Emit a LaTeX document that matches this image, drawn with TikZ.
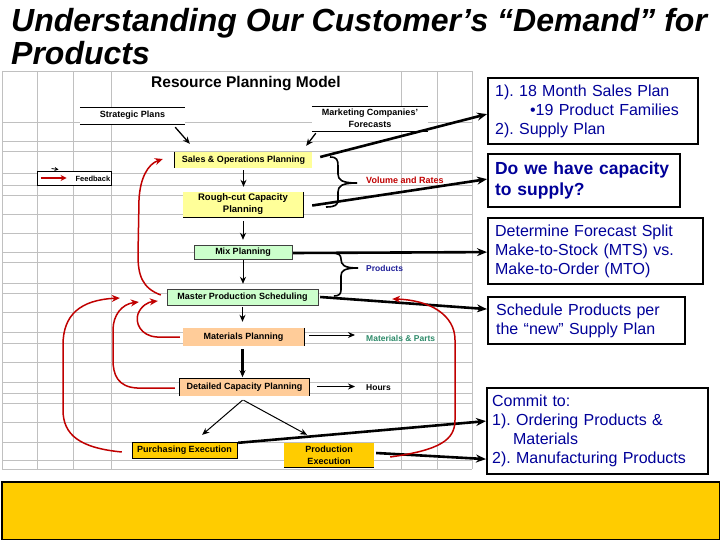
\documentclass[tikz,border=0pt]{standalone}
\usepackage{fontspec}
\setmainfont{Liberation Sans}
\usetikzlibrary{arrows.meta,calc}
\definecolor{sopY}{HTML}{FFFF99}
\definecolor{mixG}{HTML}{CCFFCC}
\definecolor{matO}{HTML}{FFCC99}
\definecolor{goldY}{HTML}{FFCC00}
\definecolor{navy}{HTML}{000099}
\definecolor{arcred}{HTML}{C00000}
\definecolor{gridgray}{HTML}{C0C0C0}
\definecolor{tealg}{HTML}{2E8B6A}
\definecolor{prodblue}{HTML}{1F1F99}
\frenchspacing
\begin{document}
\begin{tikzpicture}[x=1pt,y=-1pt,
  gridline/.style={draw=gridgray,line width=0.8pt},
  cell/.style={inner sep=0pt,font=\fontsize{9}{12}\selectfont\bfseries,align=center},
  lbl/.style={inner sep=0pt,font=\fontsize{8.5}{10}\selectfont\bfseries,anchor=west},
  blk/.style={draw=black,line width=1pt,-{Stealth[length=7pt,width=6pt]}},
  bigarrow/.style={draw=black,line width=2.6pt,-{Stealth[length=10pt,width=8pt]}},
  redarc/.style={draw=arcred,line width=1.5pt,-{Stealth[length=8pt,width=7pt]}},
  rbox/.style={draw=black,line width=2.2pt,fill=white,anchor=north west,align=left,
    text=navy,font=\fontsize{16}{19}\selectfont,inner xsep=7pt,inner ysep=0pt},
  brace/.style={draw=black,line width=1.6pt}
]
\useasboundingbox (0,0) rectangle (720,540);
\fill[white] (0,0) rectangle (720,540);

% spreadsheet grid
\foreach \y in {71,122,141,151,173,185,195,214,233,252,262,283,293,312,332,343,362,382,393,403,422,442,460,469}
  \draw[gridline] (2,\y) -- (472,\y);
\foreach \x in {2,37,73,111,401,437,472}
  \draw[gridline] (\x,71) -- (\x,469);

% title
\node[anchor=base west,inner sep=0pt,font=\fontsize{32}{33}\selectfont\bfseries\itshape] (t1) at (11,31.7) {Understanding Our Customer’s “Demand” for};
\node[anchor=base west,inner sep=0pt,font=\fontsize{32}{33}\selectfont\bfseries\itshape] (t2) at (11,65) {Products};

\node[anchor=base west,inner sep=0pt,font=\fontsize{15.5}{16}\selectfont\bfseries,fill=white] (rpm) at (151,88) {Resource Planning Model};

% top inputs
\node[cell,minimum width=105pt,minimum height=17pt,fill=white] (sp) at (132.5,115.5) {Strategic Plans};
\draw (sp.north west) -- (sp.north east) (sp.south west) -- (sp.south east);
\node[cell,minimum width=116pt,minimum height=25pt,fill=white] (mk) at (370,118.5) {Marketing Companies'\\Forecasts};
\draw (mk.north west) -- (mk.north east) (mk.south west) -- (mk.south east);

% chart boxes
\node[cell,fill=sopY,minimum width=137pt,minimum height=16pt] (sop) at (243.5,160) {Sales \& Operations Planning};
\draw[line width=0.8pt] (sop.north west) -- (sop.south west);
\node[cell,fill=sopY,minimum width=120pt,minimum height=25pt,font=\fontsize{9.5}{12}\selectfont\bfseries] (rough) at (243,204.5) {Rough-cut Capacity\\Planning};
\draw[line width=0.8pt] (rough.north east) -- (rough.south east) -- (rough.south west);
\node[cell,fill=mixG,draw=black!75,minimum width=98pt,minimum height=14pt] (mix) at (243,252) {Mix Planning};
\node[cell,fill=mixG,draw=black!75,minimum width=151pt,minimum height=16pt] (mps) at (242.5,297) {Master Production Scheduling};
\node[cell,fill=matO,minimum width=121pt,minimum height=18pt] (mat) at (243.5,337) {Materials Planning};
\draw[line width=0.8pt] (mat.north east) -- (mat.south east);
\node[cell,fill=matO,minimum width=129pt,minimum height=17pt] (det) at (244.5,387.5) {Detailed Capacity Planning};
\draw[line width=0.8pt] (det.south west) -- (det.north west) -- (det.north east) -- (det.south east);
\node[cell,fill=goldY,draw=black,minimum width=105pt,minimum height=16pt] (pur) at (184.5,450) {Purchasing Execution};
\node[cell,fill=goldY,minimum width=90pt,minimum height=24pt] (prod) at (329,455) {Production\\Execution};
\draw[line width=0.8pt] (prod.south west) -- (prod.south east);

% feedback legend
\node[draw=black,line width=0.9pt,fill=white,minimum width=74pt,minimum height=14pt,inner sep=0pt] (fb) at (74,178) {};
\node[inner sep=0pt,font=\fontsize{7.5}{8}\selectfont\bfseries,anchor=east] (fbt) at ($(fb.east)+(-1,1)$) {Feedback};
\draw[draw=arcred,line width=1.4pt,-{Stealth[length=6pt,width=6pt]}] ($(fb.west)+(4,0)$) -- ($(fb.west)+(30,0)$);
\draw[draw=black,line width=0.8pt,-{Stealth[length=4pt,width=4pt]}] ($(fb.north west)+(15,-2)$) -- ($(fb.north west)+(22,-1)$);

% labels
\node[lbl,text=arcred,font=\fontsize{9}{10}\selectfont\bfseries] (vr) at (366,180) {Volume and Rates};
\node[lbl,text=prodblue] (prd) at (366,268) {Products};
\node[lbl,text=tealg] (mp) at (366,338) {Materials \& Parts};
\node[lbl] (hrs) at (366,387.5) {Hours};

% right text boxes
\node[rbox,minimum width=210pt,minimum height=66pt,text width=196pt] (b1) at (487,77)
  {1). 18 Month Sales Plan\\\hspace*{35pt}•19 Product Families\\2). Supply Plan};
\node[rbox,minimum width=192pt,minimum height=53pt,text width=178pt,font=\fontsize{17.5}{21}\selectfont\bfseries] (b2) at (487,153)
  {Do we have capacity\\to supply?};
\node[rbox,minimum width=215pt,minimum height=66pt,text width=201pt] (b3) at (487,217)
  {Determine Forecast Split\\Make-to-Stock (MTS) vs.\\Make-to-Order (MTO)};
\node[rbox,minimum width=197pt,minimum height=47pt,text width=181pt,inner xsep=8pt] (b4) at (487,296)
  {Schedule Products per\\the “new” Supply Plan};
\node[rbox,minimum width=221pt,minimum height=86pt,text width=211pt,inner xsep=5pt] (b5) at (486,387)
  {Commit to:\\1). Ordering Products \&\\\hspace*{21pt}Materials\\2). Manufacturing Products};

% inputs to S&OP
\draw[blk,line width=1.3pt] ($(sp.south east)+(-10,3)$) -- ($(sop.north west)+(15,-8)$);
\draw[blk,line width=1.3pt] ($(mk.south west)+(4,2)$) -- ($(sop.north east)+(-6,-6)$);

% vertical flow
\draw[blk,shorten >=5pt,shorten <=2pt] (sop.south) -- (sop.south |- rough.north);
\draw[blk,shorten >=5pt,shorten <=4pt] (rough.south) -- (rough.south |- mix.north);
\draw[blk,shorten >=5pt,shorten <=1pt] (mix.south) -- (mix.south |- mps.north);
\draw[blk,shorten >=6pt,shorten <=2pt] (mps.south) -- (mps.south |- mat.north);
\draw[blk,line width=2.2pt] ($(mat.south)+(-1,3)$) -- ($(mat.south)+(-1,31)$);
\draw[blk] ($(det.south)+(-2,4)$) -- ($(pur.north east)+(-35,-7)$);
\draw[blk] ($(det.south)+(-1,4)$) -- ($(prod.north)+(-22,-8)$);

% side outputs
\draw[blk,shorten <=5pt,shorten >=11pt] ($(mat.east)+(0,-2)$) -- ($(mp.west)+(0,-3)$);
\draw[blk,shorten <=8pt,shorten >=11pt] ($(det.east)+(0,-1)$) -- ($(hrs.west)+(0,-1)$);

% braces
\draw[brace] (330,157) .. controls (337,157) and (338,160) .. (338,166) -- (338,174)
  .. controls (338,180) and (342,183) .. (357,183);
\draw[brace] (357,183) .. controls (342,183) and (338,186) .. (338,192) -- (338,200)
  .. controls (338,205) and (335,207) .. (326,207);
\draw[brace] (331,253) .. controls (339,253) and (341,255) .. (341,259)
  .. controls (341,265) and (344,268) .. (358,268);
\draw[brace] (358,268) .. controls (344,268) and (341,271) .. (341,276) -- (341,290)
  .. controls (341,294) and (339,296) .. (334,296);

% long arrows to the text boxes
\draw[bigarrow] ($(sop.east)+(8,-3)$) -- ($(b1.west)+(0,3)$);
\draw[bigarrow] ($(rough.east)+(9,1)$) -- ($(b2.west)+(0,-1.5)$);
\draw[bigarrow] ($(mix.east)+(1,1)$) -- ($(b3.west)+(0,1)$);
\draw[bigarrow] ($(mps.east)+(2,0)$) -- ($(b4.west)+(0,-11.5)$);
\draw[bigarrow] ($(pur.north east)+(1,1)$) -- ($(b5.west)+(0,-10)$);
\draw[bigarrow] ($(prod.east)+(2,-2)$) -- ($(b5.west)+(0,28)$);

% red feedback arcs
\draw[redarc] ($(mps.west)+(-6,-2)$) .. controls (142,288) and (138,275) .. (138,255) -- (139,200)
  .. controls (140,178) and (148,164) .. ($(sop.west)+(-12,-1)$);
\draw[redarc] ($(mat.west)+(-3,0)$) -- (157,337) .. controls (140,336) and (135,322) .. (138,314)
  .. controls (141,306) and (148,302) .. ($(mps.west)+(-9,4)$);
\draw[redarc] ($(det.west)+(-5,0.5)$) -- (137,388) .. controls (118,387) and (113,375) .. (113,360) -- (113,330)
  .. controls (113,315) and (122,304) .. ($(mps.west)+(-28,5)$);
\draw[redarc] ($(pur.west)+(-10,2)$) .. controls (80,448) and (63,435) .. (63,410) -- (63,345)
  .. controls (63,315) and (80,300) .. ($(mps.west)+(-47,1)$);
\draw[redarc] ($(prod.east)+(16,2)$) .. controls (440,450) and (455,440) .. (455,420) -- (455,340)
  .. controls (455,315) and (430,300) .. ($(mps.east)+(74,2)$);

% bottom bar
\node[draw=black,line width=2pt,fill=goldY,minimum width=718pt,minimum height=58pt,anchor=north west,inner sep=0pt] (bar) at (1,481) {};
\end{tikzpicture}
\end{document}
